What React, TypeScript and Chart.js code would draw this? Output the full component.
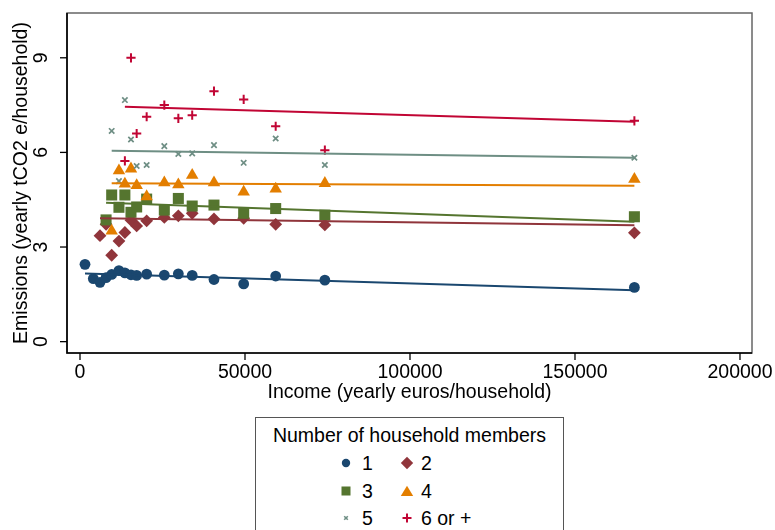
import React, { useEffect, useRef } from 'react';
import { Chart, registerables } from 'chart.js';

Chart.register(...registerables);

// ---- data ----
const incomeBins = [1515, 4040, 6060, 7900, 9600, 11800, 13600, 15450, 17170, 20200, 25550, 29800, 34000, 40600, 49600, 59300, 74200, 168000];

const emissions1 = [2.45, 2.0, 1.88, 2.03, 2.13, 2.25, 2.18, 2.12, 2.1, 2.14, 2.11, 2.15, 2.1, 1.97, 1.83, 2.08, 1.95, 1.72];
const emissions2 = [null, null, 3.36, 3.72, 2.74, 3.19, 3.46, 3.85, 3.67, 3.83, 3.94, 3.99, 4.07, 3.89, 3.91, 3.72, 3.7, 3.45];
const emissions3 = [null, null, null, 3.86, 4.65, 4.26, 4.65, 4.1, 4.27, 4.52, 4.17, 4.54, 4.3, 4.33, 4.07, 4.22, 4.01, 3.96];
const emissions4 = [null, null, null, null, 3.51, 5.42, 5.0, 5.48, 4.95, 4.6, 5.04, 4.98, 5.28, 5.04, 4.75, 4.84, 5.02, 5.15];
const emissions5 = [null, null, null, null, 6.68, 5.09, 7.66, 6.41, 5.57, 5.6, 6.2, 5.95, 5.97, 6.23, 5.67, 6.44, 5.6, 5.83];
const emissions6 = [null, null, null, null, null, null, 5.73, 9.0, 6.6, 7.13, 7.5, 7.08, 7.18, 7.94, 7.68, 6.83, 6.07, 7.0];

// linear-fit end values (start at each group's lowest income, end at highest)
const fitStartY = [2.16, 3.91, 4.4, 5.02, 6.05, 7.45];
const fitEndY = [1.63, 3.69, 3.8, 4.94, 5.83, 6.97];

const groupLabels = ['1', '2', '3', '4', '5', '6 or +'];
const xTicks = [0, 50000, 100000, 150000, 200000];
const yTicks = [0, 3, 6, 9];
const xTitle = 'Income (yearly euros/household)';
const yTitle = 'Emissions (yearly tCO2 e/household)';
const legendTitle = 'Number of household members';

// ---- styles ----
const colors = ['#1a476f', '#90353b', '#55752f', '#e37e00', '#6e8e84', '#c10534'];
const markerStyles = ['circle', 'rectRot', 'rect', 'triangle', 'crossRot', 'cross'];
const markerRadius = [5.4, 6.4, 7.8, 7.2, 3.8, 4.6];
const FONT = '"Liberation Sans", Arial, Helvetica, sans-serif';

const allSeries = [emissions1, emissions2, emissions3, emissions4, emissions5, emissions6];

const axisPlugin = {
  id: 'stataAxes',
  afterDatasetsDraw(chart: any) {
    const { ctx, chartArea: a, scales } = chart;
    const xs = scales.x;
    const ys = scales.y;
    ctx.save();
    // plot region frame
    ctx.strokeStyle = '#666666';
    ctx.lineWidth = 1.5;
    ctx.strokeRect(a.left, a.top, a.right - a.left, a.bottom - a.top);
    // axes
    ctx.strokeStyle = '#000000';
    ctx.lineWidth = 1.6;
    ctx.beginPath();
    ctx.moveTo(a.left, a.top);
    ctx.lineTo(a.left, a.bottom);
    ctx.lineTo(a.right, a.bottom);
    ctx.stroke();

    ctx.font = `19.5px ${FONT}`;
    ctx.fillStyle = '#000000';
    ctx.lineWidth = 1.3;
    // y ticks
    for (const v of yTicks) {
      const py = ys.getPixelForValue(v);
      ctx.beginPath();
      ctx.moveTo(a.left - 7, py);
      ctx.lineTo(a.left, py);
      ctx.stroke();
      ctx.save();
      ctx.translate(a.left - 25, py);
      ctx.rotate(-Math.PI / 2);
      ctx.textAlign = 'center';
      ctx.textBaseline = 'middle';
      ctx.fillText(String(v), 0, 0);
      ctx.restore();
    }
    // x ticks
    for (const v of xTicks) {
      const px = xs.getPixelForValue(v);
      ctx.beginPath();
      ctx.moveTo(px, a.bottom);
      ctx.lineTo(px, a.bottom + 7);
      ctx.stroke();
      ctx.textAlign = 'center';
      ctx.textBaseline = 'middle';
      ctx.fillText(String(v), px, a.bottom + 20);
    }
    // titles
    ctx.textAlign = 'center';
    ctx.textBaseline = 'middle';
    ctx.fillText(xTitle, (a.left + a.right) / 2, a.bottom + 40);
    ctx.save();
    ctx.translate(a.left - 45, (a.top + a.bottom) / 2);
    ctx.rotate(-Math.PI / 2);
    ctx.fillText(yTitle, 0, 0);
    ctx.restore();
    ctx.restore();
  },
};

function LegendMarker({ i }: { i: number }) {
  const c = colors[i];
  let shape: any = null;
  if (i === 0) shape = <circle cx={7} cy={7} r={4.2} fill={c} />;
  if (i === 1) shape = <polygon points="7,0.8 13.2,7 7,13.2 0.8,7" fill={c} />;
  if (i === 2) shape = <rect x={2.5} y={2.5} width={9} height={9} fill={c} />;
  if (i === 3) shape = <polygon points="7,1.8 13.2,12 0.8,12" fill={c} />;
  if (i === 4)
    shape = (
      <g stroke={c} strokeWidth={1.6}>
        <line x1={5.2} y1={5.2} x2={8.8} y2={8.8} />
        <line x1={8.8} y1={5.2} x2={5.2} y2={8.8} />
      </g>
    );
  if (i === 5)
    shape = (
      <g stroke={c} strokeWidth={2}>
        <line x1={7} y1={2.5} x2={7} y2={11.5} />
        <line x1={2.5} y1={7} x2={11.5} y2={7} />
      </g>
    );
  return (
    <svg width={14} height={14} style={{ display: 'block' }}>
      {shape}
    </svg>
  );
}

export default function App() {
  const canvasRef = useRef<HTMLCanvasElement | null>(null);

  useEffect(() => {
    const canvas = canvasRef.current;
    if (!canvas) return;

    const scatterSets = allSeries.map((series, i) => ({
      type: 'scatter' as const,
      label: groupLabels[i],
      data: incomeBins
        .map((x, k) => ({ x, y: series[k] }))
        .filter((p) => p.y !== null),
      pointStyle: markerStyles[i],
      pointRadius: markerRadius[i],
      pointHoverRadius: markerRadius[i],
      backgroundColor: colors[i],
      borderColor: colors[i],
      borderWidth: i >= 4 ? (i === 5 ? 2 : 1.7) : 0,
      showLine: false,
      order: 7 - i,
    }));

    const fitSets = allSeries.map((series, i) => {
      const idx = series.findIndex((v) => v !== null);
      return {
        type: 'scatter' as const,
        label: 'fit ' + groupLabels[i],
        data: [
          { x: incomeBins[idx], y: fitStartY[i] },
          { x: incomeBins[incomeBins.length - 1], y: fitEndY[i] },
        ],
        showLine: true,
        pointRadius: 0,
        pointHoverRadius: 0,
        borderColor: colors[i],
        backgroundColor: colors[i],
        borderWidth: 2,
        order: 0,
      };
    });

    const chart = new Chart(canvas, {
      type: 'scatter',
      data: { datasets: [...fitSets, ...scatterSets] as any },
      options: {
        responsive: false,
        devicePixelRatio: 1,
        animation: false,
        layout: { padding: { left: 67, top: 13, right: 23, bottom: 177 } },
        plugins: { legend: { display: false }, tooltip: { enabled: false } },
        scales: {
          x: { type: 'linear', display: false, min: -3940, max: 203640 },
          y: { type: 'linear', display: false, min: -0.36, max: 10.42 },
        },
      },
      plugins: [axisPlugin],
    });
    return () => chart.destroy();
  }, []);

  const rowY = [463, 491, 518];
  const colMarkerX = [346, 407];
  const colTextX = [362, 421];

  return (
    <div
      style={{
        position: 'fixed',
        left: 0,
        top: 0,
        width: 775,
        height: 530,
        background: '#ffffff',
        overflow: 'hidden',
        fontFamily: FONT,
      }}
    >
      <canvas ref={canvasRef} width={775} height={530} style={{ display: 'block', width: 775, height: 530 }} />
      <div
        style={{
          position: 'absolute',
          left: 255,
          top: 417,
          width: 309,
          height: 140,
          border: '1.5px solid #555555',
          boxSizing: 'border-box',
          background: '#ffffff',
        }}
      />
      <div
        style={{
          position: 'absolute',
          left: 255,
          width: 309,
          top: 435 - 11,
          lineHeight: '22px',
          fontSize: '19.5px',
          textAlign: 'center',
          color: '#000',
          whiteSpace: 'nowrap',
        }}
      >
        {legendTitle}
      </div>
      {groupLabels.map((lab, i) => {
        const r = Math.floor(i / 2);
        const c = i % 2;
        return (
          <React.Fragment key={lab}>
            <div style={{ position: 'absolute', left: colMarkerX[c] - 7, top: rowY[r] - 7 }}>
              <LegendMarker i={i} />
            </div>
            <div
              style={{
                position: 'absolute',
                left: colTextX[c],
                top: rowY[r] - 11,
                lineHeight: '22px',
                fontSize: '19.5px',
                color: '#000',
                whiteSpace: 'nowrap',
              }}
            >
              {lab}
            </div>
          </React.Fragment>
        );
      })}
    </div>
  );
}
